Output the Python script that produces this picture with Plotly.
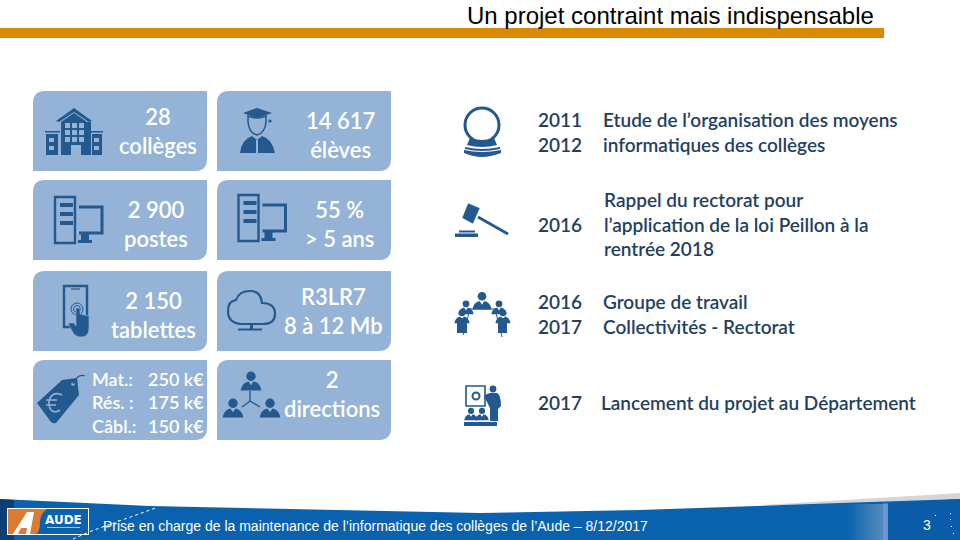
import plotly.graph_objects as go

# slide text
title_text = "Un projet contraint mais indispensable"
footer_text = "Prise en charge de la maintenance de l’informatique des collèges de l’Aude – 8/12/2017"
page_number = "3"

card_labels = [
    "28<br>collèges", "14 617<br>élèves",
    "2 900<br>postes", "55 %<br>> 5 ans",
    "2 150<br>tablettes", "R3LR7<br>8 à 12 Mb",
    "Mat.:<br>Rés. :<br>Câbl.:", "2<br>directions",
]
budget_values = ["250 k€", "175 k€", "150 k€"]
timeline_years = ["2011<br>2012", "2016", "2016<br>2017", "2017"]
timeline_texts = [
    "Etude de l’organisation des moyens<br>informatiques des collèges",
    "Rappel du rectorat pour<br>l’application de la loi Peillon à la<br>rentrée 2018",
    "Groupe de travail<br>Collectivités - Rectorat",
    "Lancement du projet au Département",
]

# layout of the cards and text, in slide pixels
card_x0 = [33, 217, 33, 217, 33, 217, 33, 217]
card_y0 = [91, 91, 180, 180, 271, 271, 360, 360]
label_x = [158, 340, 156, 339.5, 153, 333, 90, 332]
label_y = [131, 135, 224, 224, 315, 311, 402, 394]
year_y = [132, 224, 314, 402]
timeline_x = [601, 602, 601, 599]
timeline_y = [132, 224, 314, 402]

CARD = "#95B3D7"
ICON = "#23598F"
DARK = "#243F60"
CLEAR = "rgba(0,0,0,0)"

shapes = []
annotations = []


def add_path(path, color=ICON, line_color=None, width=0):
    shapes.append(dict(type="path", path=path, fillcolor=color, layer="above",
                       line=dict(color=line_color or color, width=width)))


def add_stroke(path, width=2, color=ICON):
    shapes.append(dict(type="path", path=path, layer="above",
                       line=dict(color=color, width=width)))


def add_rect(x0, y0, x1, y1, color=ICON):
    shapes.append(dict(type="rect", x0=x0, y0=y0, x1=x1, y1=y1, layer="above",
                       fillcolor=color, line=dict(width=0)))


def add_circle(cx, cy, r, color=ICON, line_color=None, width=0):
    shapes.append(dict(type="circle", x0=cx - r, y0=cy - r, x1=cx + r, y1=cy + r,
                       layer="above", fillcolor=color,
                       line=dict(color=line_color or color, width=width)))


def add_text(x, y, text, size, color="white", anchor="center", family="Lato", weight=None):
    annotations.append(dict(x=x, y=y, text=text, showarrow=False, xanchor=anchor,
                            yanchor="middle", align=anchor,
                            font=dict(family=family, size=size, color=color, weight=weight)))


def card(x, y, w=174, h=80, r=12):
    return (f"M{x + r},{y} H{x + w} V{y + h - r} Q{x + w},{y + h} {x + w - r},{y + h} "
            f"H{x} V{y + r} Q{x},{y} {x + r},{y} Z")


def person(cx, top, s=1.0, color=ICON):
    add_circle(cx, top + 4 * s, 3.6 * s, color)
    add_path(f"M{cx - 8 * s},{top + 15 * s} Q{cx - 7 * s},{top + 9 * s} {cx - 2 * s},{top + 8 * s} "
             f"L{cx},{top + 11 * s} L{cx + 2 * s},{top + 8 * s} Q{cx + 7 * s},{top + 9 * s} "
             f"{cx + 8 * s},{top + 15 * s} Z", color)


def computer(x, y):
    # tower
    add_path(f"M{x},{y} H{x + 20} V{y + 46} H{x} Z", CLEAR, ICON, 2.4)
    for dy in (6, 15, 24):
        add_rect(x + 5, y + dy, x + 18, y + dy + 4)
    # screen
    add_stroke(f"M{x + 24},{y + 10} H{x + 47} V{y + 36} H{x + 24}", 3)
    add_rect(x + 26, y + 37, x + 34, y + 43)
    add_rect(x + 23, y + 43, x + 37, y + 46)


# title and orange rule
add_rect(0, 28, 884, 38, "#DB8A00")
add_text(670, 15.5, title_text, 24, "black", family="Liberation Sans")

# cards
for i, label in enumerate(card_labels):
    shapes.append(dict(type="path", path=card(card_x0[i], card_y0[i]),
                       fillcolor=CARD, line=dict(width=0), layer="below"))
    if i == 6:
        add_text(label_x[i], label_y[i], label, 18, anchor="left", weight=600)
    else:
        add_text(label_x[i], label_y[i], label, 22, weight=600)
add_text(146, 402, "<br>".join(budget_values), 18, anchor="left", weight=600)

# school
add_path("M74,108 L56,121 L59,122 L74,112 L89,122 L92,121 Z")
add_path("M61,122 L74,113 L87,122 L91,122 V155 H81 V145 H71 V155 H61 Z")
for wx in (65, 72, 79):
    for wy in (123, 130, 137):
        add_rect(wx, wy, wx + 5, wy + 5, CARD)
add_rect(46, 134, 58, 155)
add_rect(92, 134, 102, 155)
add_rect(45, 131, 60, 132.5)
add_rect(90, 131, 103, 132.5)
for wx in (49, 94):
    add_rect(wx, 138, wx + 5, 142, CARD)
    add_rect(wx, 146, wx + 5, 150, CARD)

# graduate
add_path("M243,113 L257,108 L272,113 L257,118 Z")
add_path("M248,116 Q257,120 266,116 V122 Q265,133 257,135 Q249,133 248,122 Z", CARD, ICON, 1.5)
add_path("M240,153 Q242,139 252,136 L257,140 L262,136 Q272,139 275,153 Z")
add_rect(256, 140, 258, 153, CARD)
add_circle(270, 121, 1.6)

# computers
computer(55, 197)
computer(238.5, 195)

# tablet + hand
add_path("M64,286 H87 V327 H64 Z", CLEAR, ICON, 2.4)
add_stroke("M71,289 H80", 1.2)
add_circle(77, 309, 6, CLEAR, ICON, 1)
add_circle(77, 309, 3.5, CLEAR, ICON, 1)
add_path("M76,308 H80 V314 L89,316 V328 Q89,337 81,337 Q75,337 72,331 L68,323 H74 L76,326 Z", ICON, CARD, 0.6)

# cloud
add_stroke("M241,324 Q228,323 228,311 Q228,301 236,300 Q239,291 250,291 Q261,291 262,303 "
           "Q275,303 275,314 Q275,324 263,324 Z", 2.2)
add_rect(250, 324, 253, 329)
add_rect(238, 328.5, 262, 330.5)

# price tag
add_path("M37,403 L62,380 L77,378 L79,395 L56,423 Q53,424 51,422 Z")
add_circle(73, 384, 1.8, CARD)
add_stroke("M73,384 Q78,373 85,376", 1.2)
add_stroke("M62,395 Q54,391 50,398 Q47,406 52,411 Q56,413 60,410", 1.6, CARD)
add_stroke("M46,400 H57 M46,405 H56", 1.4, CARD)

# org chart
person(251, 371, 1.3)
person(233, 398, 1.3)
person(270, 398, 1.3)
add_stroke("M250,391 V401 M250,401 L242,407 M250,401 L260,407", 1.4)

# crystal ball
add_circle(482, 125, 17, CLEAR, ICON, 3)
add_path("M470,138 Q482,142 494,138 L497,145 Q482,149 467,145 Z")
add_path("M465,147 Q482,151 500,147 V149 Q482,153 465,149 Z")
add_path("M464,150 Q482,154 501,150 V153 Q490,157 482,157 Q474,157 464,153 Z")

# gavel
add_path("M468,203 L480,208 L473,224 L462,218 Z", ICON, "#FFFFFF", 0.5)
add_stroke("M478,217 L508,234", 2.8)
add_rect(459, 230.5, 475, 232.5)
add_rect(455, 233.5, 478, 237)

# meeting
person(482, 291.5, 1.2)
for cx, top in ((466, 300), (499, 300), (462, 309), (503, 309)):
    person(cx, top, 0.95)
add_rect(457, 318, 467, 333)
add_rect(498, 318, 507, 333)
add_stroke("M470,309 H495", 1)
add_stroke("M470,309 L463,335 M495,309 L502,337", 1)

# presentation
add_path("M466,386 H485 V406 H466 Z", CLEAR, ICON, 1.6)
add_circle(476, 396, 3.5, CLEAR, ICON, 2)
add_circle(493, 389, 3.4)
add_path("M487,394 L490,393 H497 Q501,395 501,406 L498,409 V421 H490 V408 L484,396 Z")
add_rect(464, 422, 497, 426)
person(471, 407.5, 0.85)
person(482, 407.5, 0.85)

# timeline
for i in range(4):
    add_text(536, year_y[i], timeline_years[i], 19, DARK, anchor="left", weight=600)
    add_text(timeline_x[i], timeline_y[i], timeline_texts[i], 19, DARK, anchor="left", weight=600)

# footer band
add_path("M760,505 L960,493 V505 H760 Z", "#D4D6D9")
add_path("M0,499 L150,506 L480,513 L640,510 L840,503 L960,499 V540 H0 Z", "#0A62AE")
add_path("M0,499 L14,500 V540 H0 Z", "#0C3F76")
gradient = ["#0C63AE", "#1067AF", "#166AB0", "#1D6EB2", "#2472B3", "#2B75B5",
            "#3279B6", "#387CB8", "#3F80B9", "#4583BB", "#4A86BC", "#4E88BE"]
for i, c in enumerate(gradient):
    add_rect(847 + i * 3, 504, 847 + (i + 1) * 3 + 0.5, 540, c)
add_rect(883, 503.5, 888, 540, "#6F94D6")
add_path("M888,503.5 L960,499 V540 H888 Z", "#0A5CA8")

# logo
add_rect(7, 508, 89, 535, "white")
add_rect(8, 509, 88, 534, "#0A62AE")
add_path("M8,509 H47 Q40,514 40,522 Q40,530 37,534 H8 Z", "#DB7A33")
add_path("M13,534 L27,512 H34 L30,534 H26 L27,528 H21 L18,534 Z", "white")
add_text(63.5, 520, "AUDE", 12, "white", family="DejaVu Sans", weight=700)
add_rect(47, 527, 80, 528, "#9DC3E6")

# dotted lines
for seg in ("M90,531.5 L157,507.5", "M73,539 L89,532"):
    shapes.append(dict(type="path", path=seg, layer="above",
                       line=dict(color="white", width=1, dash="dot")))
for px, py in ((935, 515), (950, 513), (950, 519), (951, 526), (953, 533)):
    add_rect(px, py, px + 1, py + 1, "white")

add_text(375, 526, footer_text, 14, "white", family="Liberation Sans")
add_text(927, 525, page_number, 14, "white", family="Liberation Sans")

fig = go.Figure()
fig.update_layout(
    width=960,
    height=540,
    margin=dict(l=0, r=0, t=0, b=0),
    paper_bgcolor="white",
    plot_bgcolor="white",
    showlegend=False,
    xaxis=dict(range=[0, 960], visible=False, fixedrange=True),
    yaxis=dict(range=[540, 0], visible=False, fixedrange=True),
    shapes=shapes,
    annotations=annotations,
)
fig.write_html(
    "out.html",
    config={"displayModeBar": False},
    post_script="document.body.style.margin = '0';",
)
